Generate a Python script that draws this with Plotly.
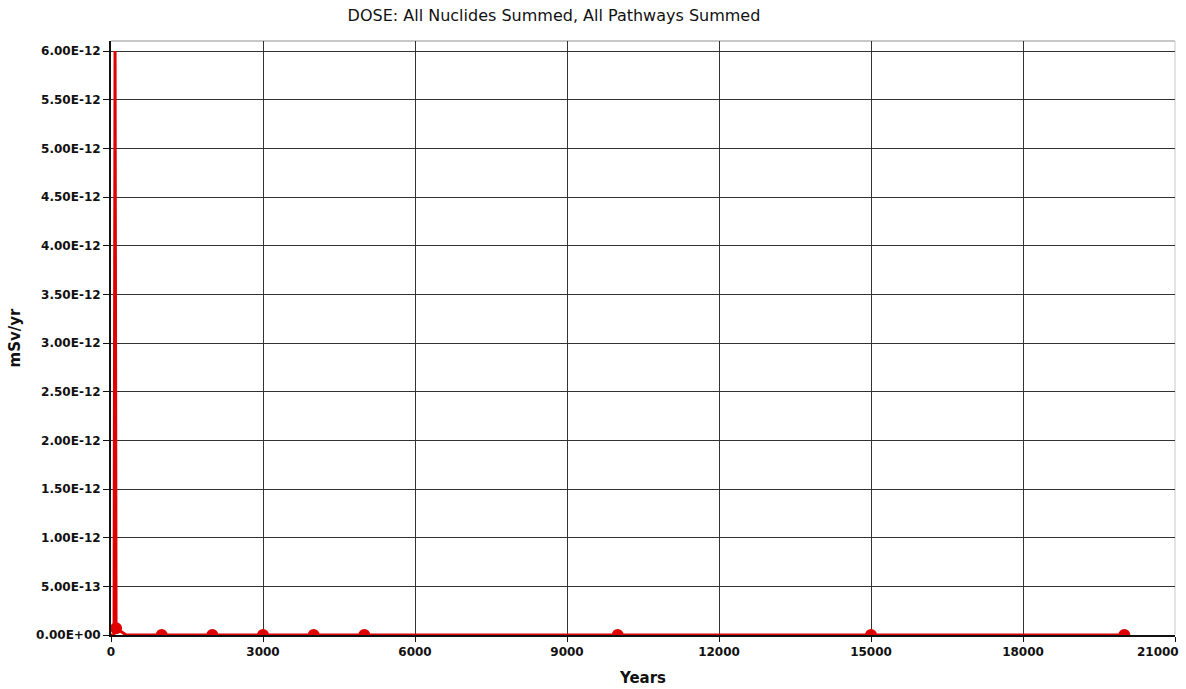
import plotly.graph_objects as go

# Total dose, all nuclides and pathways summed (mSv/yr) versus time (years)
line_years = [0, 60, 80, 100, 300, 1000, 2000, 3000, 4000, 5000, 10000, 15000, 20000]
line_dose = [0.0, 0.0, 6.0e-12, 7.0e-14, 0.0, 0.0, 0.0, 0.0, 0.0, 0.0, 0.0, 0.0, 0.0]

marker_years = [100, 1000, 2000, 3000, 4000, 5000, 10000, 15000, 20000]
marker_dose = [7.0e-14, 0.0, 0.0, 0.0, 0.0, 0.0, 0.0, 0.0, 0.0]

x_ticks = [0, 3000, 6000, 9000, 12000, 15000, 18000, 21000]
x_tick_labels = ["0", "3000", "6000", "9000", "12000", "15000", "18000", "21000"]
y_ticks = [i * 0.5e-12 for i in range(13)]
y_tick_labels = [
    "0.00E+00", "5.00E-13", "1.00E-12", "1.50E-12", "2.00E-12", "2.50E-12",
    "3.00E-12", "3.50E-12", "4.00E-12", "4.50E-12", "5.00E-12", "5.50E-12",
    "6.00E-12",
]

RED = "#e00000"
INK = "#111111"
tick_font = dict(family="DejaVu Sans", size=12, color=INK)

# the last x label sits inside the page edge, so pad it on the right
x_text = ["<b>%s</b>" % t for t in x_tick_labels]
x_text[-1] = "<b>%s</b>%s" % (x_tick_labels[-1], "\u00a0" * 9)

fig = go.Figure()
fig.add_trace(go.Scatter(
    x=line_years, y=line_dose, mode="lines",
    line=dict(color=RED, width=3), hoverinfo="skip", showlegend=False,
))
fig.add_trace(go.Scatter(
    x=marker_years, y=marker_dose, mode="markers",
    marker=dict(color=RED, size=12), showlegend=False,
))

fig.update_layout(
    width=1186, height=689,
    margin=dict(l=111, r=11, t=41, b=54),
    paper_bgcolor="white", plot_bgcolor="white",
    title=dict(
        text="DOSE: All Nuclides Summed, All Pathways Summed",
        x=554 / 1186, xanchor="center", y=1 - 15 / 689, yanchor="middle",
        font=dict(family="DejaVu Sans", size=16, color=INK),
    ),
    xaxis=dict(
        range=[0, 21000], tickvals=x_ticks, ticktext=x_text,
        showgrid=True, gridcolor="#333333", gridwidth=1,
        zeroline=False, showline=True, linecolor=INK, linewidth=2,
        mirror=False, ticks="outside", ticklen=5, tickcolor=INK,
        tickfont=tick_font, layer="below traces", ticklabeloverflow="allow",
        automargin=False,
        title=dict(text="<b>Years</b>", standoff=14,
                   font=dict(family="DejaVu Sans", size=15, color=INK)),
    ),
    yaxis=dict(
        range=[0, 6.103e-12], tickvals=y_ticks,
        ticktext=["<b>%s</b>" % t for t in y_tick_labels],
        showgrid=True, gridcolor="#333333", gridwidth=1,
        zeroline=False, showline=True, linecolor=INK, linewidth=2,
        ticks="outside", ticklen=6, tickcolor=INK,
        tickfont=tick_font, layer="below traces", automargin=False,
        title=dict(text="<b>mSv/yr</b>", standoff=12,
                   font=dict(family="DejaVu Sans", size=15, color=INK)),
    ),
)

# light frame along the top and right of the plot area
fig.add_shape(type="line", xref="paper", yref="paper", x0=0, x1=1, y0=1, y1=1,
              line=dict(color="#c8c8c8", width=2), layer="below")
fig.add_shape(type="line", xref="paper", yref="paper", x0=1, x1=1, y0=0, y1=1,
              line=dict(color="#c8c8c8", width=1), layer="below")

fig.write_html("out.html")
